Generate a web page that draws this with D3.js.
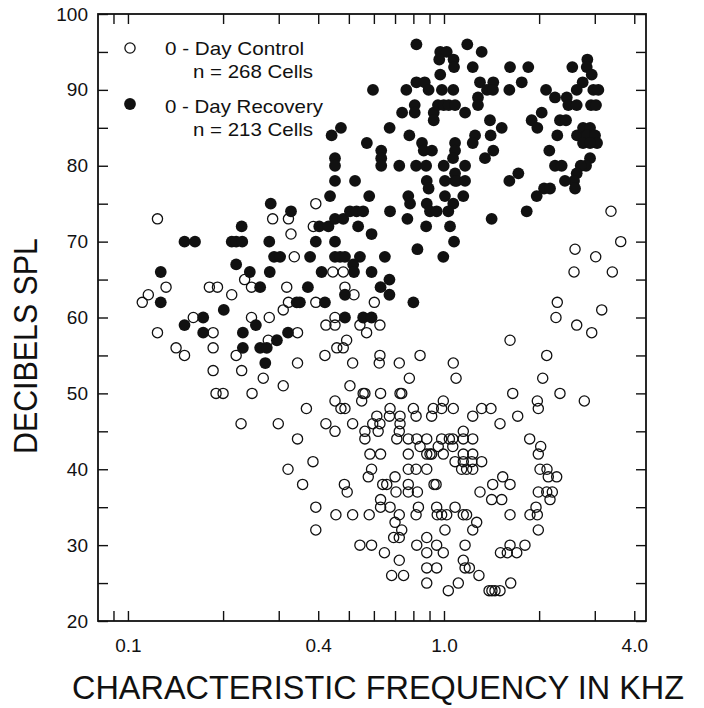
<!DOCTYPE html>
<html>
<head>
<meta charset="utf-8">
<script src="https://cdn.jsdelivr.net/npm/d3@7"></script>
<style>
  body { margin: 0; background: #fff; }
  text { font-family: "Liberation Sans", Arial, Helvetica, sans-serif; fill: #111; }
</style>
</head>
<body>
<div id="chart"></div>
<script>
// 0-day control cells (open circles): CF in kHz, threshold in dB SPL
var controlFreq = [
  0.124,0.393,0.287,0.322,0.386,0.328,0.336,0.234,0.246,0.181,0.192,0.132,0.116,0.111,0.213,0.318,
  0.161,0.186,0.124,0.246,0.280,0.322,0.310,0.393,0.344,0.278,0.220,0.186,0.142,0.151,0.344,0.420,
  0.423,0.186,0.229,0.268,
  0.445,0.480,0.486,0.519,0.602,0.452,0.452,0.542,0.569,0.627,0.492,0.458,0.480,0.627,0.624,0.514,
  0.722,0.840,1.070,0.777,1.092,
  3.376,3.624,2.598,3.020,2.579,3.409,2.283,2.261,3.156,2.630,2.934,1.618,2.114,2.053,
  0.190,0.200,0.247,0.228,
  0.310,0.504,0.367,0.452,0.472,0.486,0.555,0.562,0.549,0.630,0.726,0.735,0.299,0.423,0.452,0.514,
  0.344,0.385,0.321,0.357,0.393,0.393,0.455,0.514,0.580,0.484,0.494,0.562,0.562,0.583,0.630,0.590,
  0.576,0.595,0.627,0.619,0.613,0.675,0.672,0.726,0.726,0.722,0.709,0.800,0.816,0.925,0.914,0.995,
  0.983,0.771,0.820,0.882,0.840,0.983,1.040,0.771,0.882,0.903,0.914,0.995,0.959,0.771,0.816,0.882,
  0.700,0.659,0.640,0.705,0.771,0.771,0.824,0.930,0.944,0.630,0.630,0.675,0.722,0.700,0.735,0.693,
  0.722,0.830,0.816,0.948,0.952,0.983,1.020,1.007,0.542,0.590,0.648,0.722,0.820,0.882,0.882,0.948,
  0.995,0.683,0.745,0.882,0.948,0.882,1.032,
  1.650,2.328,2.780,1.974,1.988,1.070,1.316,1.408,1.233,1.711,1.504,1.151,1.151,1.233,1.066,1.066,
  1.867,2.023,1.988,1.151,1.233,1.084,1.151,1.224,1.316,1.137,1.179,1.233,1.534,1.618,1.426,1.300,
  1.415,1.523,2.013,2.118,2.138,2.273,1.988,2.114,2.202,2.165,1.084,1.151,1.179,1.269,1.233,1.618,
  1.955,1.871,1.974,1.988,1.166,1.618,1.509,1.586,1.699,1.804,1.151,1.166,1.203,1.290,1.110,1.389,
  1.418,1.450,1.504,1.626
];
var controlDb = [
  73,75,73,73,72,71,68,65,64,64,64,64,63,62,63,64,
  60,58,58,60,60,62,61,62,58,57,55,56,56,55,54,55,
  59,53,53,52,
  66,66,64,63,62,60,59,59,58,59,57,56,56,55,54,54,
  54,55,54,52,52,
  74,70,69,68,66,66,62,60,61,59,58,57,55,52,
  50,50,50,46,
  51,51,48,49,48,48,50,50,49,50,50,50,46,46,45,46,
  44,41,40,38,35,32,34,34,34,38,37,45,44,42,42,40,
  39,46,46,45,47,48,47,47,46,45,44,48,47,48,47,49,
  48,44,44,44,43,44,44,42,42,42,42,42,43,40,40,40,
  39,38,38,37,38,37,37,38,38,36,35,35,34,33,32,31,
  31,35,34,35,34,34,34,32,30,30,29,28,30,31,29,30,
  29,26,26,27,27,25,24,
  50,50,49,49,48,48,48,48,47,47,46,45,44,44,44,43,
  44,43,42,42,42,41,41,41,41,40,40,40,39,38,38,37,
  36,36,40,40,39,39,37,37,37,36,35,34,34,33,32,34,
  35,34,34,32,30,30,29,29,29,30,28,27,27,26,25,24,
  24,24,24,25
];

// 0-day recovery cells (filled circles)
var recoveryFreq = [
  0.441,0.472,0.452,0.452,0.452,
  0.818,0.973,1.020,0.966,0.973,0.818,0.869,0.596,0.760,0.894,0.985,0.737,0.808,0.808,0.928,0.957,
  0.928,0.998,1.035,0.673,0.777,0.570,0.633,0.633,0.633,0.722,0.816,0.878,0.852,0.863,0.916,0.998,
  0.523,
  1.185,1.316,1.072,1.076,1.233,1.618,1.848,2.547,2.842,2.829,2.934,1.300,1.432,1.762,2.747,1.070,
  1.368,1.281,1.281,1.429,1.610,2.103,2.968,3.079,2.245,2.446,2.474,2.630,2.630,2.919,3.027,1.084,
  1.166,1.398,1.523,1.405,1.254,1.233,1.084,1.084,1.068,1.432,1.348,1.166,1.084,1.084,1.894,1.974,
  2.038,2.328,2.433,2.283,2.154,2.636,2.754,2.898,2.835,3.005,3.050,2.754,2.898,2.898,2.815,2.708,
  2.630,2.579,2.598,2.245,2.357,2.414,1.719,1.610,
  0.436,0.283,0.328,0.229,0.403,0.431,0.151,0.163,0.213,0.220,0.230,0.280,0.393,0.290,0.303,0.377,
  0.220,0.243,0.281,0.410,0.127,0.262,0.127,0.371,0.201,0.173,0.151,0.173,0.254,0.342,0.350,0.420,
  0.231,0.321,0.296,0.262,0.275,0.231,0.272,
  0.882,0.894,1.007,1.097,1.166,0.580,0.771,0.781,0.882,0.903,1.007,1.070,1.032,1.151,0.452,0.480,
  0.504,0.529,0.555,0.675,0.948,0.766,1.415,0.535,0.590,0.878,1.045,0.452,1.076,0.824,0.452,0.469,
  0.486,0.542,0.650,0.995,0.516,0.519,0.590,0.672,0.486,0.630,0.672,0.800,0.486,0.555,0.590,
  2.073,2.165,1.965,1.827
];
var recoveryDb = [
  84,85,81,80,78,
  96,95,95,94,92,91,91,90,90,90,90,87,88,87,87,88,
  86,88,88,85,84,83,82,81,80,80,80,80,83,82,82,80,
  78,
  96,95,94,93,93,93,93,93,94,93,92,91,91,91,91,90,
  90,89,88,90,90,90,90,90,89,89,88,88,90,88,88,88,
  87,86,85,84,84,83,83,82,81,82,81,80,79,78,86,85,
  87,86,86,84,82,84,85,85,84,84,83,83,83,81,80,80,
  79,78,77,80,80,78,79,78,
  76,75,74,72,72,72,70,70,70,70,70,70,70,68,68,68,
  67,66,66,66,66,64,62,64,61,60,59,58,59,62,62,62,
  58,58,57,56,56,56,54,
  78,77,78,78,78,76,76,75,75,74,76,75,74,76,73,73,
  74,74,74,74,74,73,73,72,71,72,72,70,70,69,68,68,
  68,68,68,68,67,66,66,65,63,64,63,62,60,60,60,
  77,77,76,74
];

var xLabelValues = [0.1, 0.4, 1.0, 4.0];
var xTickValues = [0.09, 0.1, 0.2, 0.3, 0.4, 0.5, 0.6, 0.7, 0.8, 0.9, 1, 2, 3, 4];
var yLabelValues = [20, 30, 40, 50, 60, 70, 80, 90, 100];
var yTickValues = d3.range(20, 101, 5);

var legendLabels = ["0 - Day Control", "n = 268 Cells", "0 - Day Recovery", "n = 213 Cells"];
var xTitle = "CHARACTERISTIC FREQUENCY IN KHZ";
var yTitle = "DECIBELS SPL";

var width = 704, height = 708;
var plot = {left: 98, right: 646, top: 14, bottom: 621};

var svg = d3.select("#chart")
  .append("svg")
    .attr("width", width)
    .attr("height", height);

var x = d3.scaleLog()
  .domain([0.0804, 4.357])
  .range([plot.left, plot.right]);

var y = d3.scaleLinear()
  .domain([20, 100])
  .range([plot.bottom, plot.top]);

function styleAxis(g) {
  g.select(".domain").remove();
  g.selectAll("line").attr("stroke", "#111").attr("stroke-width", 1.4);
  g.selectAll("text")
    .attr("font-family", "'Liberation Sans', Arial, sans-serif")
    .attr("font-size", 19)
    .attr("fill", "#111");
}

// bottom axis, ticks pointing inward
svg.append("g")
  .attr("transform", "translate(0," + plot.bottom + ")")
  .call(d3.axisBottom(x)
    .tickValues(xTickValues)
    .tickSize(-10)
    .tickSizeOuter(0)
    .tickPadding(18)
    .tickFormat(function(d) { return xLabelValues.indexOf(d) > -1 ? d3.format(".1f")(d) : ""; }))
  .call(styleAxis);

svg.append("g")
  .attr("transform", "translate(0," + plot.top + ")")
  .call(d3.axisTop(x).tickValues(xTickValues).tickSize(-10).tickSizeOuter(0).tickFormat(""))
  .call(styleAxis);

svg.append("g")
  .attr("transform", "translate(" + plot.left + ",0)")
  .call(d3.axisLeft(y)
    .tickValues(yTickValues)
    .tickSize(-10)
    .tickSizeOuter(0)
    .tickPadding(10)
    .tickFormat(function(d) { return yLabelValues.indexOf(d) > -1 ? d : ""; }))
  .call(styleAxis);

svg.append("g")
  .attr("transform", "translate(" + plot.right + ",0)")
  .call(d3.axisRight(y).tickValues(yTickValues).tickSize(-10).tickSizeOuter(0).tickFormat(""))
  .call(styleAxis);

// frame
svg.append("rect")
  .attr("x", plot.left)
  .attr("y", plot.top)
  .attr("width", plot.right - plot.left)
  .attr("height", plot.bottom - plot.top)
  .attr("fill", "none")
  .attr("stroke", "#111")
  .attr("stroke-width", 1.8);

var control = controlFreq.map(function(f, i) { return {f: f, db: controlDb[i]}; });
var recovery = recoveryFreq.map(function(f, i) { return {f: f, db: recoveryDb[i]}; });

svg.append("g")
  .selectAll("circle")
  .data(control)
  .enter()
  .append("circle")
    .attr("cx", function(d) { return x(d.f); })
    .attr("cy", function(d) { return y(d.db); })
    .attr("r", 5.1)
    .attr("fill", "none")
    .attr("stroke", "#111")
    .attr("stroke-width", 1.3);

svg.append("g")
  .selectAll("circle")
  .data(recovery)
  .enter()
  .append("circle")
    .attr("cx", function(d) { return x(d.f); })
    .attr("cy", function(d) { return y(d.db); })
    .attr("r", 5.9)
    .attr("fill", "#111");

// legend
var legend = svg.append("g");
legend.append("circle")
  .attr("cx", 130).attr("cy", 48).attr("r", 5.1)
  .attr("fill", "none").attr("stroke", "#111").attr("stroke-width", 1.3);
legend.append("circle")
  .attr("cx", 130).attr("cy", 104).attr("r", 5.9)
  .attr("fill", "#111");

var legendPos = [[165, 55, 139], [193, 77.5, 120], [165, 112.5, 158], [193, 135.5, 120]];
legend.selectAll("text")
  .data(legendLabels)
  .enter()
  .append("text")
    .attr("x", function(d, i) { return legendPos[i][0]; })
    .attr("y", function(d, i) { return legendPos[i][1]; })
    .attr("textLength", function(d, i) { return legendPos[i][2]; })
    .attr("lengthAdjust", "spacingAndGlyphs")
    .attr("font-size", 18.5)
    .text(function(d) { return d; });

// axis titles
svg.append("text")
  .attr("x", 72)
  .attr("y", 699)
  .attr("font-size", 33)
  .attr("textLength", 612)
  .attr("lengthAdjust", "spacingAndGlyphs")
  .text(xTitle);

svg.append("text")
  .attr("transform", "translate(37,454) rotate(-90)")
  .attr("font-size", 33)
  .attr("textLength", 216)
  .attr("lengthAdjust", "spacingAndGlyphs")
  .text(yTitle);
</script>
</body>
</html>
